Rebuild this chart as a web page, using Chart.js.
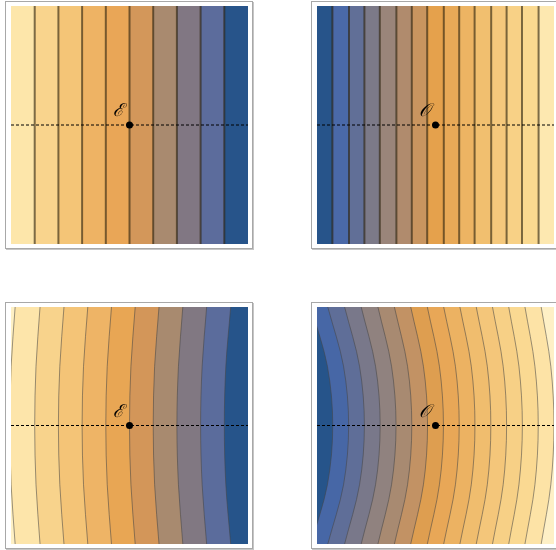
<!DOCTYPE html>
<html>
<head>
<meta charset="utf-8">
<script src="https://cdn.jsdelivr.net/npm/chart.js@4.4.0/dist/chart.umd.min.js"></script>
<style>
    html, body { margin: 0; padding: 0; background: #fff; overflow: hidden; width: 556px; height: 550px; }
    .frame { position: absolute; border: 1px solid #a8a8a8; box-shadow: 1px 1px 0 #c6c6c6; background: #fff; }
    canvas { position: absolute; }
</style>
</head>
<body>
<div class="frame" style="left:5px;top:1px;width:246px;height:246px"></div>
<div class="frame" style="left:311px;top:1px;width:246px;height:246px"></div>
<div class="frame" style="left:5px;top:302px;width:246px;height:245px"></div>
<div class="frame" style="left:311px;top:302px;width:246px;height:245px"></div>
<canvas id="tl" width="237" height="238" style="left:11px;top:6px"></canvas>
<canvas id="tr" width="237" height="238" style="left:317px;top:6px"></canvas>
<canvas id="bl" width="237" height="237" style="left:11px;top:307px"></canvas>
<canvas id="br" width="237" height="237" style="left:317px;top:307px"></canvas>
<script>
    // Marked point (same place in every panel)
    const markX = 0;
    const markY = 0;

    // Top left: straight contours, 10 bands
    const tlLevels = [-0.8, -0.6, -0.4, -0.2, 0, 0.2, 0.4, 0.6, 0.8];
    const tlColors = ['#fde6aa', '#f9d48d', '#f4c577', '#eeb364', '#e9a657', '#d3975a', '#a98a6f', '#817783', '#5c6c9c', '#27548a'];

    // Top right: straight contours, 15 bands
    const trLevels = [-0.87, -0.73, -0.6, -0.47, -0.33, -0.2, -0.07, 0.07, 0.2, 0.33, 0.47, 0.6, 0.73, 0.87];
    const trColors = ['#27548a', '#4a69a8', '#616f97', '#7c7a88', '#9a857a', '#b08b6d', '#c9955f', '#e5a14c', '#e8a957', '#edb463', '#f1bf6f', '#f5c87c', '#f8d186', '#fad990', '#fde8b0'];

    // Curved contours are read at these heights (edge, half, middle, half, edge)
    const curveY = [-1, -0.5, 0, 0.5, 1];

    // Bottom left: slightly bent contours
    const blMid  = [-1.01, -0.8, -0.6, -0.4, -0.2, 0, 0.2, 0.4, 0.6, 0.8];
    const blHalf = [-0.999, -0.789, -0.588, -0.388, -0.188, 0.012, 0.212, 0.413, 0.613, 0.813];
    const blEdge = [-0.965, -0.755, -0.553, -0.352, -0.152, 0.048, 0.249, 0.45, 0.651, 0.854];
    const blColors = ['#fef0c4', '#fde5aa', '#f8d38c', '#f4c477', '#eeb466', '#e8a654', '#d39659', '#a88a6f', '#817882', '#5b6c9c', '#26548a'];

    // Bottom right: strongly bent contours
    const brMid  = [-0.867, -0.733, -0.6, -0.467, -0.333, -0.2, -0.067, 0.067, 0.2, 0.333, 0.467, 0.6, 0.733, 0.867, 1.0];
    const brHalf = [-0.912, -0.776, -0.641, -0.506, -0.371, -0.236, -0.102, 0.033, 0.168, 0.302, 0.437, 0.571, 0.704, 0.839, 0.973];
    const brEdge = [-1.051, -0.909, -0.767, -0.627, -0.486, -0.347, -0.209, -0.069, 0.069, 0.206, 0.344, 0.481, 0.618, 0.755, 0.892];
    const brColors = ['#26548a', '#4767a6', '#5f6e98', '#79788a', '#90827f', '#a88a71', '#c29264', '#de9e50', '#e8a757', '#ecb262', '#f0bd6e', '#f4c67a', '#f7d086', '#fad992', '#fde3a6', '#fef0c6'];

    function straight(levels) {
        return levels.map(v => [{x: v, y: -1}, {x: v, y: 1}]);
    }

    function bent(mid, half, edge) {
        return mid.map((m, i) => {
            const xs = [edge[i], half[i], m, half[i], edge[i]];
            return curveY.map((y, j) => ({x: xs[j], y: y}));
        });
    }

    const pointLabel = {
        id: 'pointLabel',
        afterDatasetsDraw(chart, args, opts) {
            const ctx = chart.ctx;
            const px = chart.scales.x.getPixelForValue(markX);
            const py = chart.scales.y.getPixelForValue(markY);
            ctx.save();
            ctx.font = 'italic 18px "DejaVu Serif"';
            ctx.fillStyle = '#000';
            ctx.textAlign = 'center';
            ctx.textBaseline = 'middle';
            ctx.fillText(opts.text, px - 11.5, py - 13.5);
            ctx.restore();
        }
    };

    function makePanel(id, curves, colors, lineColor, lineWidth, label) {
        const datasets = [];
        datasets.push({
            data: [{x: markX, y: markY}],
            showLine: false, fill: false,
            pointRadius: 3.5, pointBackgroundColor: '#000', pointBorderWidth: 0
        });
        datasets.push({
            data: [{x: -1, y: markY}, {x: 1, y: markY}],
            borderColor: '#000', borderWidth: 1, borderDash: [3, 2],
            fill: false, pointRadius: 0
        });
        curves.forEach((pts, i) => {
            datasets.push({
                data: pts,
                borderColor: lineColor, borderWidth: lineWidth,
                backgroundColor: colors[i], fill: {value: -2},
                pointRadius: 0, cubicInterpolationMode: 'monotone'
            });
        });
        // right-most band
        datasets.push({
            data: [{x: 1, y: -1}, {x: 1, y: 1}],
            borderColor: 'rgba(0,0,0,0)', borderWidth: 0,
            backgroundColor: colors[colors.length - 1], fill: {value: -2},
            pointRadius: 0
        });

        new Chart(document.getElementById(id), {
            type: 'line',
            data: {datasets: datasets},
            options: {
                indexAxis: 'y',
                responsive: false,
                animation: false,
                events: [],
                layout: {padding: 0, autoPadding: false},
                plugins: {
                    legend: {display: false},
                    tooltip: {enabled: false},
                    pointLabel: {text: label}
                },
                scales: {
                    x: {type: 'linear', min: -1, max: 1, display: false},
                    y: {type: 'linear', min: -1, max: 1, display: false}
                }
            },
            plugins: [pointLabel]
        });
    }

    makePanel('tl', straight(tlLevels), tlColors, 'rgba(45,35,15,0.62)', 2, 'ℰ');
    makePanel('tr', straight(trLevels), trColors, 'rgba(45,35,15,0.62)', 2, '𝒪');
    makePanel('bl', bent(blMid, blHalf, blEdge), blColors, 'rgba(70,70,70,0.55)', 1, 'ℰ');
    makePanel('br', bent(brMid, brHalf, brEdge), brColors, 'rgba(70,70,70,0.55)', 1, '𝒪');
</script>
</body>
</html>
